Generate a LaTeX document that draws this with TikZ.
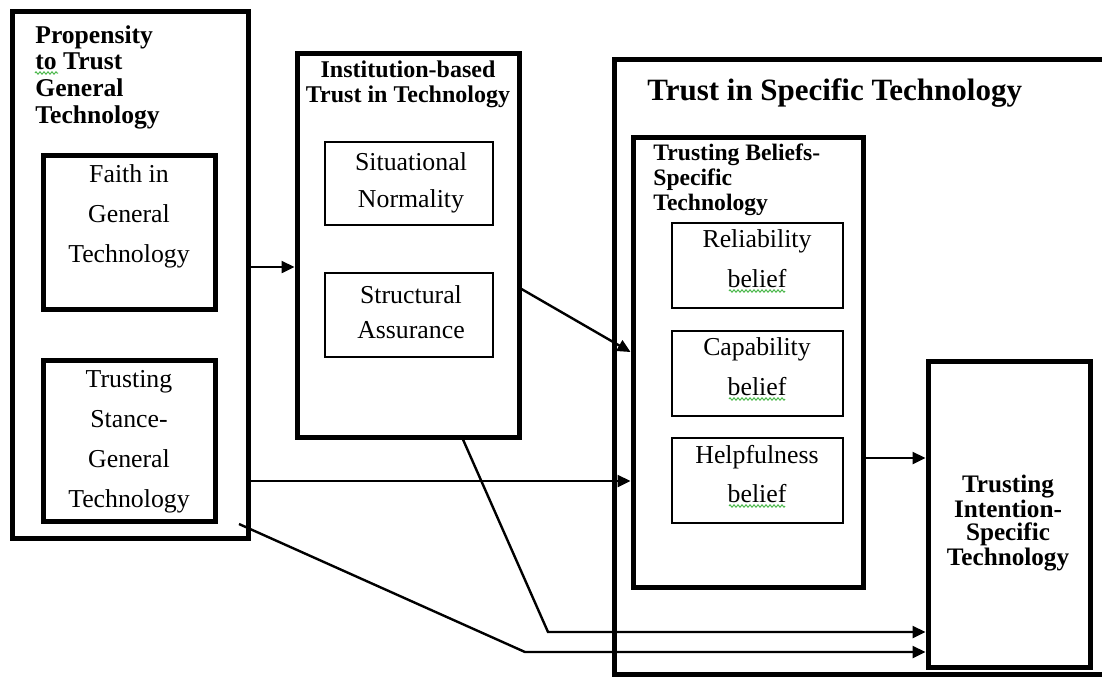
\documentclass[tikz,border=0pt]{standalone}
\usepackage{fontspec}
\setmainfont{Liberation Serif}
\usetikzlibrary{arrows.meta,fit,decorations.pathmorphing}
\definecolor{spellgr}{HTML}{4CB84C}
\tikzset{
  arr/.style={-{Triangle[length=6.5pt,width=6pt]},line width=1.2pt},
  fatbox/.style={draw,line width=2.5pt,inner sep=0pt},
  slimbox/.style={draw,line width=0.7pt,inner sep=0pt},
  head/.style={font=\bfseries\fontsize{12.8}{13.3}\selectfont,align=left,anchor=base west,inner sep=0pt},
  lbl/.style={font=\fontsize{12.9}{20}\selectfont,align=center,anchor=base,inner sep=0pt},
  squig/.style={spellgr,line width=0.5pt,decorate,decoration={zigzag,amplitude=0.6pt,segment length=2pt}},
}

\begin{document}
\begin{tikzpicture}[x=0.5pt,y=-0.5pt]
  \useasboundingbox (0,0) rectangle (1102,677);
  % general technology
  \node[fatbox,fit={(12,11) (248,538)}] (prop) {};
  \node[fatbox,fit={(43,155) (215,309)}] (faith) {};
  \node[fatbox,fit={(43,360) (215,521)}] (stance) {};
  \node[head] (proph) at (35,123) {Propensity\\to Trust\\General\\Technology};
  \node[lbl] (faithl) at (129,262) {Faith in\\General\\Technology};
  \node[lbl] (stancel) at (129,507) {Trusting\\Stance-\\General\\Technology};
  % institution
  \node[fatbox,fit={(297,53) (519,437)}] (inst) {};
  \node[slimbox,fit={(325,142) (493,225)}] (sit) {};
  \node[slimbox,fit={(325,273) (493,357)}] (struc) {};
  \node[head,anchor=base,align=center,font=\bfseries\fontsize{12}{12.5}\selectfont] (insth) at (408,102) {Institution-based\\Trust in Technology};
  \node[lbl,font=\fontsize{12.9}{18.5}\selectfont] (sitl) at (411,207) {Situational\\Normality};
  \node[lbl,font=\fontsize{12.9}{17.5}\selectfont] (strucl) at (411,338) {Structural\\Assurance};
  % specific technology
  \node[fatbox,fit={(614,59) (1125,674)}] (spec) {};
  \node[head,font=\bfseries\fontsize{15.5}{18}\selectfont] (spech) at (647,100) {Trust in Specific Technology};
  \node[fatbox,fit={(633,137) (863,587)}] (beliefs) {};
  \node[head,font=\bfseries\fontsize{11.8}{12.5}\selectfont] (beliefsh) at (653,210) {Trusting Beliefs-\\Specific\\Technology};
  \node[slimbox,fit={(672,223) (843,308)}] (reli) {};
  \node[slimbox,fit={(672,331) (843,416)}] (capa) {};
  \node[slimbox,fit={(672,438) (843,523)}] (help) {};
  \node[lbl] (relil) at (757,287) {Reliability\\belief};
  \node[lbl] (capal) at (757,395) {Capability\\belief};
  \node[lbl,font=\fontsize{12.9}{19.5}\selectfont] (helpl) at (757,502) {Helpfulness\\belief};
  \node[fatbox,fit={(928,361) (1090,667)}] (intent) {};
  \node[lbl,font=\bfseries\fontsize{12.6}{11.3}\selectfont] (intentl) at (1008,565) {Trusting\\Intention-\\Specific\\Technology};
  % spelling marks
  \draw[squig] (35,73) -- (58,73);
  \foreach \yy in {291,399,506}
    \draw[squig] (729,\yy) -- (785,\yy);
  % connectors
  \draw[arr] (prop.east |- 0,267) -- (inst.west |- 0,267);
  \draw[arr] (inst.east |- 0,289) -- (beliefs.west |- 0,352);
  \draw[arr] (prop.east |- 0,481) -- (beliefs.west |- 0,481);
  \draw[arr] (beliefs.east |- 0,458) -- (intent.west |- 0,458);
  \draw[arr] (inst.south -| 463,0) -- (548,632) -- (intent.west |- 0,632);
  \coordinate (tail) at (239,524);
  \draw[arr] (tail) -- (525,652) -- (intent.west |- 0,652);
\end{tikzpicture}
\end{document}
